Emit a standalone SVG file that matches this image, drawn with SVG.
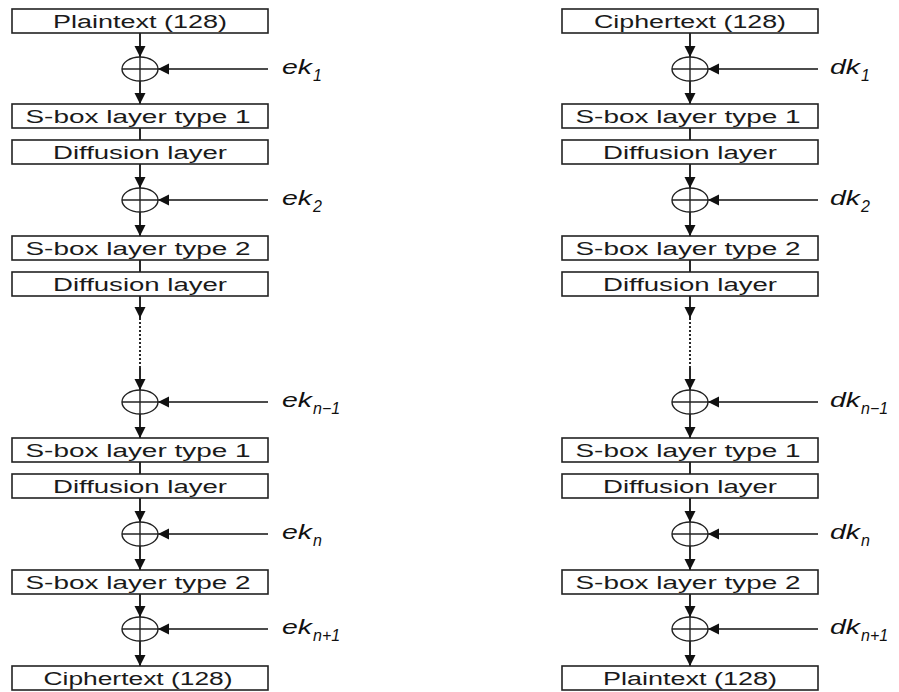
<svg xmlns="http://www.w3.org/2000/svg" width="899" height="692" viewBox="0 0 899 692">
<style>
.box{fill:#fff;stroke:#222;stroke-width:1.6}
.bt{font-family:"Liberation Sans",Arial,sans-serif;font-size:18px;fill:#1a1a1a;text-anchor:middle}
.ln{stroke:#111;stroke-width:1.8;fill:none}
.kl{stroke:#111;stroke-width:1.3;fill:none}
.dot{stroke:#111;stroke-width:1.8;stroke-dasharray:2 2;fill:none}
.xo{fill:#fff;stroke:#222;stroke-width:1.4}
.xc{stroke:#222;stroke-width:1.4}
.kt{font-family:"Liberation Sans",Arial,sans-serif;font-style:italic;font-size:21px;fill:#111}
.ks{font-size:16px}
</style>
<defs>
<marker id="ah" markerUnits="userSpaceOnUse" markerWidth="12" markerHeight="12" refX="11" refY="5.5" orient="auto">
<path d="M0,0 L11,5.5 L0,11 z" fill="#111"/>
</marker>
</defs>
<g id="connectors">
<line class="ln" x1="140" y1="33" x2="140" y2="57" marker-end="url(#ah)"/>
<line class="ln" x1="140" y1="81" x2="140" y2="104" marker-end="url(#ah)"/>
<line class="ln" x1="140" y1="128" x2="140" y2="140"/>
<line class="ln" x1="140" y1="164" x2="140" y2="188" marker-end="url(#ah)"/>
<line class="ln" x1="140" y1="212" x2="140" y2="236" marker-end="url(#ah)"/>
<line class="ln" x1="140" y1="260" x2="140" y2="272"/>
<line class="ln" x1="140" y1="296" x2="140" y2="318" marker-end="url(#ah)"/>
<line class="dot" x1="140" y1="318" x2="140" y2="368"/>
<line class="ln" x1="140" y1="368" x2="140" y2="390" marker-end="url(#ah)"/>
<line class="ln" x1="140" y1="414" x2="140" y2="438" marker-end="url(#ah)"/>
<line class="ln" x1="140" y1="462" x2="140" y2="474"/>
<line class="ln" x1="140" y1="498" x2="140" y2="522" marker-end="url(#ah)"/>
<line class="ln" x1="140" y1="546" x2="140" y2="570" marker-end="url(#ah)"/>
<line class="ln" x1="140" y1="594" x2="140" y2="617" marker-end="url(#ah)"/>
<line class="ln" x1="140" y1="641" x2="140" y2="666" marker-end="url(#ah)"/>
<line class="kl" x1="268" y1="69" x2="158" y2="69" marker-end="url(#ah)"/>
<line class="kl" x1="268" y1="200" x2="158" y2="200" marker-end="url(#ah)"/>
<line class="kl" x1="268" y1="402" x2="158" y2="402" marker-end="url(#ah)"/>
<line class="kl" x1="268" y1="534" x2="158" y2="534" marker-end="url(#ah)"/>
<line class="kl" x1="268" y1="629" x2="158" y2="629" marker-end="url(#ah)"/>
<line class="ln" x1="690" y1="33" x2="690" y2="57" marker-end="url(#ah)"/>
<line class="ln" x1="690" y1="81" x2="690" y2="104" marker-end="url(#ah)"/>
<line class="ln" x1="690" y1="128" x2="690" y2="140"/>
<line class="ln" x1="690" y1="164" x2="690" y2="188" marker-end="url(#ah)"/>
<line class="ln" x1="690" y1="212" x2="690" y2="236" marker-end="url(#ah)"/>
<line class="ln" x1="690" y1="260" x2="690" y2="272"/>
<line class="ln" x1="690" y1="296" x2="690" y2="318" marker-end="url(#ah)"/>
<line class="dot" x1="690" y1="318" x2="690" y2="368"/>
<line class="ln" x1="690" y1="368" x2="690" y2="390" marker-end="url(#ah)"/>
<line class="ln" x1="690" y1="414" x2="690" y2="438" marker-end="url(#ah)"/>
<line class="ln" x1="690" y1="462" x2="690" y2="474"/>
<line class="ln" x1="690" y1="498" x2="690" y2="522" marker-end="url(#ah)"/>
<line class="ln" x1="690" y1="546" x2="690" y2="570" marker-end="url(#ah)"/>
<line class="ln" x1="690" y1="594" x2="690" y2="617" marker-end="url(#ah)"/>
<line class="ln" x1="690" y1="641" x2="690" y2="666" marker-end="url(#ah)"/>
<line class="kl" x1="818" y1="69" x2="708" y2="69" marker-end="url(#ah)"/>
<line class="kl" x1="818" y1="200" x2="708" y2="200" marker-end="url(#ah)"/>
<line class="kl" x1="818" y1="402" x2="708" y2="402" marker-end="url(#ah)"/>
<line class="kl" x1="818" y1="534" x2="708" y2="534" marker-end="url(#ah)"/>
<line class="kl" x1="818" y1="629" x2="708" y2="629" marker-end="url(#ah)"/>
</g>
<g id="L-plain"><rect class="box" x="12" y="9" width="256" height="24"/><text class="bt" x="140" y="28" textLength="174" lengthAdjust="spacingAndGlyphs">Plaintext (128)</text></g>
<g id="L-x1"><ellipse class="xo" cx="140" cy="69" rx="18" ry="12"/><line class="xc" x1="122" y1="69" x2="158" y2="69"/><line class="xc" x1="140" y1="57" x2="140" y2="81"/></g>
<g id="L-s1"><rect class="box" x="12" y="104" width="256" height="24"/><text class="bt" x="138" y="123" textLength="225" lengthAdjust="spacingAndGlyphs">S-box layer type 1</text></g>
<g id="L-d1"><rect class="box" x="12" y="140" width="256" height="24"/><text class="bt" x="140" y="159" textLength="174" lengthAdjust="spacingAndGlyphs">Diffusion layer</text></g>
<g id="L-x2"><ellipse class="xo" cx="140" cy="200" rx="18" ry="12"/><line class="xc" x1="122" y1="200" x2="158" y2="200"/><line class="xc" x1="140" y1="188" x2="140" y2="212"/></g>
<g id="L-s2"><rect class="box" x="12" y="236" width="256" height="24"/><text class="bt" x="138" y="255" textLength="225" lengthAdjust="spacingAndGlyphs">S-box layer type 2</text></g>
<g id="L-d2"><rect class="box" x="12" y="272" width="256" height="24"/><text class="bt" x="140" y="291" textLength="174" lengthAdjust="spacingAndGlyphs">Diffusion layer</text></g>
<g id="L-x3"><ellipse class="xo" cx="140" cy="402" rx="18" ry="12"/><line class="xc" x1="122" y1="402" x2="158" y2="402"/><line class="xc" x1="140" y1="390" x2="140" y2="414"/></g>
<g id="L-s3"><rect class="box" x="12" y="438" width="256" height="24"/><text class="bt" x="138" y="457" textLength="225" lengthAdjust="spacingAndGlyphs">S-box layer type 1</text></g>
<g id="L-d3"><rect class="box" x="12" y="474" width="256" height="24"/><text class="bt" x="140" y="493" textLength="174" lengthAdjust="spacingAndGlyphs">Diffusion layer</text></g>
<g id="L-x4"><ellipse class="xo" cx="140" cy="534" rx="18" ry="12"/><line class="xc" x1="122" y1="534" x2="158" y2="534"/><line class="xc" x1="140" y1="522" x2="140" y2="546"/></g>
<g id="L-s4"><rect class="box" x="12" y="570" width="256" height="24"/><text class="bt" x="138" y="589" textLength="225" lengthAdjust="spacingAndGlyphs">S-box layer type 2</text></g>
<g id="L-x5"><ellipse class="xo" cx="140" cy="629" rx="18" ry="12"/><line class="xc" x1="122" y1="629" x2="158" y2="629"/><line class="xc" x1="140" y1="617" x2="140" y2="641"/></g>
<g id="L-cipher"><rect class="box" x="12" y="666" width="256" height="24"/><text class="bt" x="138" y="685" textLength="189" lengthAdjust="spacingAndGlyphs">Ciphertext (128)</text></g>
<g id="ek1"><text class="kt" x="282" y="74"><tspan textLength="30" lengthAdjust="spacingAndGlyphs">ek</tspan><tspan class="ks" dx="1" dy="7">1</tspan></text></g>
<g id="ek2"><text class="kt" x="282" y="205"><tspan textLength="30" lengthAdjust="spacingAndGlyphs">ek</tspan><tspan class="ks" dx="1" dy="7">2</tspan></text></g>
<g id="ekn-1"><text class="kt" x="282" y="407"><tspan textLength="30" lengthAdjust="spacingAndGlyphs">ek</tspan><tspan class="ks" dx="1" dy="7">n−1</tspan></text></g>
<g id="ekn"><text class="kt" x="282" y="539"><tspan textLength="30" lengthAdjust="spacingAndGlyphs">ek</tspan><tspan class="ks" dx="1" dy="7">n</tspan></text></g>
<g id="ekn+1"><text class="kt" x="282" y="634"><tspan textLength="30" lengthAdjust="spacingAndGlyphs">ek</tspan><tspan class="ks" dx="1" dy="7">n+1</tspan></text></g>
<g id="R-cipher"><rect class="box" x="562" y="9" width="256" height="24"/><text class="bt" x="690" y="28" textLength="192" lengthAdjust="spacingAndGlyphs">Ciphertext (128)</text></g>
<g id="R-x1"><ellipse class="xo" cx="690" cy="69" rx="18" ry="12"/><line class="xc" x1="672" y1="69" x2="708" y2="69"/><line class="xc" x1="690" y1="57" x2="690" y2="81"/></g>
<g id="R-s1"><rect class="box" x="562" y="104" width="256" height="24"/><text class="bt" x="688" y="123" textLength="225" lengthAdjust="spacingAndGlyphs">S-box layer type 1</text></g>
<g id="R-d1"><rect class="box" x="562" y="140" width="256" height="24"/><text class="bt" x="690" y="159" textLength="174" lengthAdjust="spacingAndGlyphs">Diffusion layer</text></g>
<g id="R-x2"><ellipse class="xo" cx="690" cy="200" rx="18" ry="12"/><line class="xc" x1="672" y1="200" x2="708" y2="200"/><line class="xc" x1="690" y1="188" x2="690" y2="212"/></g>
<g id="R-s2"><rect class="box" x="562" y="236" width="256" height="24"/><text class="bt" x="688" y="255" textLength="225" lengthAdjust="spacingAndGlyphs">S-box layer type 2</text></g>
<g id="R-d2"><rect class="box" x="562" y="272" width="256" height="24"/><text class="bt" x="690" y="291" textLength="174" lengthAdjust="spacingAndGlyphs">Diffusion layer</text></g>
<g id="R-x3"><ellipse class="xo" cx="690" cy="402" rx="18" ry="12"/><line class="xc" x1="672" y1="402" x2="708" y2="402"/><line class="xc" x1="690" y1="390" x2="690" y2="414"/></g>
<g id="R-s3"><rect class="box" x="562" y="438" width="256" height="24"/><text class="bt" x="688" y="457" textLength="225" lengthAdjust="spacingAndGlyphs">S-box layer type 1</text></g>
<g id="R-d3"><rect class="box" x="562" y="474" width="256" height="24"/><text class="bt" x="690" y="493" textLength="174" lengthAdjust="spacingAndGlyphs">Diffusion layer</text></g>
<g id="R-x4"><ellipse class="xo" cx="690" cy="534" rx="18" ry="12"/><line class="xc" x1="672" y1="534" x2="708" y2="534"/><line class="xc" x1="690" y1="522" x2="690" y2="546"/></g>
<g id="R-s4"><rect class="box" x="562" y="570" width="256" height="24"/><text class="bt" x="688" y="589" textLength="225" lengthAdjust="spacingAndGlyphs">S-box layer type 2</text></g>
<g id="R-x5"><ellipse class="xo" cx="690" cy="629" rx="18" ry="12"/><line class="xc" x1="672" y1="629" x2="708" y2="629"/><line class="xc" x1="690" y1="617" x2="690" y2="641"/></g>
<g id="R-plain"><rect class="box" x="562" y="666" width="256" height="24"/><text class="bt" x="690" y="685" textLength="174" lengthAdjust="spacingAndGlyphs">Plaintext (128)</text></g>
<g id="dk1"><text class="kt" x="830" y="74"><tspan textLength="30" lengthAdjust="spacingAndGlyphs">dk</tspan><tspan class="ks" dx="1" dy="7">1</tspan></text></g>
<g id="dk2"><text class="kt" x="830" y="205"><tspan textLength="30" lengthAdjust="spacingAndGlyphs">dk</tspan><tspan class="ks" dx="1" dy="7">2</tspan></text></g>
<g id="dkn-1"><text class="kt" x="830" y="407"><tspan textLength="30" lengthAdjust="spacingAndGlyphs">dk</tspan><tspan class="ks" dx="1" dy="7">n−1</tspan></text></g>
<g id="dkn"><text class="kt" x="830" y="539"><tspan textLength="30" lengthAdjust="spacingAndGlyphs">dk</tspan><tspan class="ks" dx="1" dy="7">n</tspan></text></g>
<g id="dkn+1"><text class="kt" x="830" y="634"><tspan textLength="30" lengthAdjust="spacingAndGlyphs">dk</tspan><tspan class="ks" dx="1" dy="7">n+1</tspan></text></g>
</svg>
